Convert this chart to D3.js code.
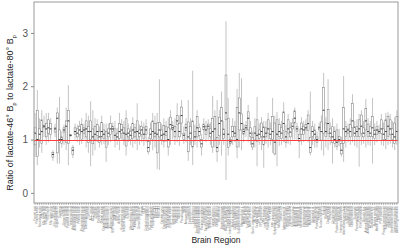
<!DOCTYPE html>
<html>
<head>
<meta charset="utf-8">
<script src="https://cdn.jsdelivr.net/npm/d3@7"></script>
<style>
  body { margin: 0; background: #fff; }
  text { font-family: "Liberation Sans", Arial, sans-serif; }
</style>
</head>
<body>
<svg id="chart"></svg>
<script>
const regions = [
  "Frontal pole","Primary motor","Secondary motor","SSp nose","SSp barrel field","SSp lower limb","SSp mouth","SSp upper limb","SSp trunk","SSp unassigned",
  "Supplemental SS","Gustatory","Visceral","Dorsal auditory","Primary auditory","Posterior auditory","Ventral auditory","Anterolateral visual","Anteromedial visual","Lateral visual",
  "Primary visual","Posterolateral visual","Posteromedial visual","Laterointermediate","Postrhinal","ACC dorsal","ACC ventral","Prelimbic","Infralimbic","Orbital lateral",
  "Orbital medial","Orbital ventrolateral","Agranular insula d","Agranular insula p","Agranular insula v","RSP lateral agranular","RSP dorsal","RSP ventral","Anterior visual","Rostrolateral visual",
  "Temporal association","Perirhinal","Ectorhinal","Main olfactory bulb","Accessory olfactory","Anterior olfactory","Taenia tecta","Dorsal peduncular","Piriform","NLOT",
  "Cortical amygdala a","Cortical amygdala p","Piriform-amygdalar","Postpiriform trans","Field CA1","Field CA2","Field CA3","Dentate gyrus","Fasciola cinereum","Induseum griseum",
  "Entorhinal lateral","Entorhinal medial","Parasubiculum","Postsubiculum","Presubiculum","Subiculum","Prosubiculum","HATA","Area prostriata","Claustrum",
  "Endopiriform d","Endopiriform v","Lateral amygdala","Basolateral amygdala","Basomedial amygdala","Posterior amygdala","Caudoputamen","Nucleus accumbens","Fundus of striatum","Olfactory tubercle",
  "Lateral septum c","Lateral septum r","Lateral septum v","Septofimbrial","Septohippocampal","Anterior amygdalar","Bed n. accessory olf","Central amygdala","Intercalated amygdala","Medial amygdala",
  "Globus pallidus ext","Globus pallidus int","Substantia innominata","Magnocellular n.","Medial septum","Diagonal band","Triangular septum","Bed n. stria term.","Bed n. anterior comm.","VAL thalamus",
  "Ventral medial th.","VPL thalamus","VPL parvicellular","VPM thalamus","VPM parvicellular","Posterior triangular","SPF medial","SPF parvicellular","Subparafascicular area","Peripeduncular",
  "Medial geniculate","Dorsal LGN","Lateral posterior th.","Posterior complex","Posterior limiting","Suprageniculate","Ethmoid nucleus","Anteroventral th.","Anteromedial th.","Anterodorsal th.",
  "Interanteromedial","Interanterodorsal","Lateral dorsal th.","Intermediodorsal","Mediodorsal th.","Submedial th.","Perireunensis","Paraventricular th.","Parataenial","Nucleus reuniens",
  "Xiphoid","Rhomboid","Central medial","Paracentral","Central lateral","Parafascicular","Posterior intralaminar","Reticular th.","Intergeniculate leaflet","Intermediate geniculate",
  "Ventral LGN","Subgeniculate","Medial habenula","Lateral habenula","Supraoptic","Paraventricular hyp.","PVH anterior","PVH intermediate","Arcuate hyp.","Anterodorsal preoptic",
  "Anteroventral preoptic","AV periventricular","Dorsomedial hyp.","Median preoptic","Medial preoptic area","Parastrellar","PVH posterior","Preoptic periventricular","Subparaventricular","Suprachiasmatic",
  "Subfornical organ","Ventromedial preoptic","Ventrolateral preoptic","Anterior hypothalamic"
];

const whiskerLow = [
  .67,.52,.85,.75,1.05,.90,.95,1.00,.60,1.05, .55,.55,.85,.90,.80,.52,1.05,.65,1.00,.95,
  .90,.92,1.00,.85,.75,.50,.70,.80,.95,.85, .90,.92,.58,.90,.95,1.00,.85,.90,.80,1.00,
  .90,.70,.95,.90,.85,.92,.80,.90,.95,.88, .95,.72,.90,.80,.85,.45,.43,.90,.85,.95,
  .70,.90,1.00,.90,.95,.88,1.10,.92,.95,.60, .90,.52,.90,.85,.95,.70,1.00,.95,1.00,.90,
  .75,.85,.58,.90,.70,.90,.24,.70,.88,.90, .95,.65,.85,.80,.95,1.05,.95,.90,.80,.85,
  .50,.90,.80,.47,.92,.85,.90,.75,.70,.50, .88,.90,.95,.85,.92,.90,1.00,1.00,1.00,.65,
  .90,.95,.98,.95,.70,.90,.85,.85,1.00,.80, .70,.85,.80,.90,.55,.85,.80,.88,.68,.58,
  .85,.95,.90,.95,.88,.85,.49,.90,.92,.85, .90,.88,.55,.90,.95,1.00,.90,.88,.82,.90,
  .92,.85,.80,.90
];
const q1 = [
  .90,.68,1.00,.93,1.22,1.05,1.12,1.10,.67,1.14, .75,.95,.93,1.14,.95,.93,1.07,.72,1.10,1.05,
  1.10,1.00,1.12,1.05,.95,1.00,.92,1.00,1.08,.95, 1.05,1.02,.85,1.05,1.10,1.15,1.00,.98,1.02,1.12,
  1.00,.88,1.05,1.00,1.02,1.05,1.00,1.06,1.10,1.02, 1.10,.77,1.02,1.00,1.05,.75,1.05,1.00,.97,1.08,
  .86,1.20,1.18,1.05,1.28,1.05,1.31,1.00,1.17,.77, 1.02,.86,.98,1.05,1.08,.86,1.18,1.10,1.20,1.05,
  .86,.99,.77,1.07,.98,1.02,1.37,.85,.93,1.05, 1.06,.86,1.18,1.18,1.10,1.18,1.18,1.06,.86,.99,
  .96,1.02,1.06,.90,1.05,1.12,1.02,1.00,.73,.99, 1.06,1.02,1.17,.95,1.12,1.05,1.20,1.31,1.15,.96,
  1.10,1.10,1.18,1.17,.76,1.06,1.00,.95,1.18,.99, 1.12,1.06,1.12,1.05,.95,.93,.87,.96,.73,.93,
  1.06,1.12,1.05,1.22,1.06,1.06,1.06,1.12,1.05,1.18, 1.06,1.06,1.06,1.02,1.10,1.12,1.12,1.00,.99,1.06,
  1.09,1.00,.93,.99
];
const median = [
  1.12,1.00,1.10,1.15,1.25,1.20,1.22,1.20,.72,1.20, 1.40,1.00,1.00,1.18,1.25,1.35,1.08,.80,1.15,1.12,
  1.18,1.15,1.18,1.20,1.15,1.15,1.05,1.10,1.15,1.05, 1.15,1.10,.98,1.12,1.20,1.20,1.08,1.05,1.15,1.18,
  1.12,1.10,1.12,1.08,1.18,1.14,1.15,1.12,1.18,1.10, 1.18,.85,1.10,1.15,1.12,1.10,1.18,1.08,1.10,1.15,
  1.00,1.28,1.22,1.15,1.35,1.15,1.45,1.08,1.22,1.05, 1.12,.98,1.05,1.22,1.15,.92,1.24,1.18,1.25,1.12,
  1.15,1.20,.85,1.30,1.35,1.10,1.50,1.10,.96,1.15, 1.12,1.00,1.50,1.30,1.15,1.22,1.40,1.12,.92,1.12,
  1.08,1.10,1.15,1.05,1.12,1.20,1.10,1.15,.95,1.10, 1.15,1.12,1.30,1.05,1.20,1.14,1.25,1.40,1.20,1.02,
  1.20,1.18,1.22,1.30,.85,1.15,1.10,1.00,1.22,1.15, 1.55,1.15,1.30,1.12,1.05,1.00,.95,1.00,.80,1.20,
  1.15,1.18,1.15,1.35,1.12,1.15,1.20,1.25,1.12,1.35, 1.15,1.12,1.22,1.10,1.18,1.15,1.20,1.10,1.15,1.25,
  1.20,1.10,1.05,1.15
];
const q3 = [
  1.22,1.55,1.20,1.37,1.27,1.30,1.37,1.30,.76,1.22, 1.50,1.18,1.05,1.22,1.35,1.55,1.09,.85,1.22,1.20,
  1.25,1.28,1.22,1.35,1.25,1.35,1.20,1.25,1.28,1.15, 1.32,1.18,1.15,1.20,1.30,1.25,1.20,1.12,1.30,1.28,
  1.22,1.39,1.20,1.15,1.30,1.22,1.35,1.18,1.25,1.22, 1.25,.96,1.20,1.35,1.30,1.31,1.32,1.18,1.26,1.24,
  1.22,1.42,1.26,1.25,1.45,1.30,1.61,1.12,1.29,1.33, 1.25,1.35,1.15,1.43,1.22,1.00,1.29,1.25,1.29,1.20,
  1.40,1.43,1.04,1.42,1.60,1.20,2.21,1.40,1.00,1.25, 1.24,1.60,1.78,1.48,1.20,1.26,1.52,1.22,1.04,1.24,
  1.37,1.18,1.31,1.24,1.22,1.37,1.20,1.43,1.31,1.37, 1.28,1.22,1.52,1.15,1.37,1.22,1.31,1.54,1.24,1.10,
  1.31,1.25,1.28,1.46,1.04,1.24,1.18,1.05,1.24,1.33, 1.98,1.31,1.56,1.20,1.24,1.15,1.18,1.06,.93,1.60,
  1.24,1.20,1.28,1.68,1.24,1.24,1.37,1.46,1.22,1.58, 1.29,1.24,1.43,1.18,1.24,1.18,1.37,1.20,1.37,1.43,
  1.37,1.20,1.31,1.43
];
const whiskerHigh = [
  1.50,1.93,1.40,1.55,1.45,1.50,1.50,1.40,.80,1.30, 1.60,1.80,1.15,1.28,1.60,2.02,1.10,.90,1.30,1.28,
  1.35,1.40,1.30,1.50,1.45,1.72,1.55,1.40,1.38,1.25, 1.45,1.30,1.30,1.30,1.45,1.32,1.35,1.22,1.50,1.38,
  1.35,1.55,1.30,1.25,1.42,1.30,1.68,1.28,1.35,1.32, 1.38,1.05,1.32,1.50,1.45,1.50,2.13,1.30,1.40,1.35,
  1.40,1.55,1.35,1.40,1.68,1.45,1.74,1.25,1.40,1.74, 1.40,2.29,1.28,1.55,1.30,1.10,1.40,1.35,1.38,1.32,
  1.82,1.55,1.74,1.55,1.90,1.35,3.22,1.78,1.05,1.40, 1.35,1.95,2.25,2.15,1.30,1.35,1.65,1.35,1.15,1.40,
  1.80,1.30,1.42,1.35,1.35,1.50,1.32,1.78,1.45,1.52, 1.40,1.35,1.70,1.28,1.48,1.32,1.40,1.60,1.32,1.20,
  1.42,1.35,1.38,1.55,1.90,1.35,1.30,1.15,1.32,1.45, 2.25,1.42,2.13,1.32,1.40,1.25,1.30,1.20,1.05,2.19,
  1.35,1.30,1.40,1.85,1.35,1.38,1.48,1.55,1.35,1.76, 1.40,1.35,1.78,1.30,1.35,1.28,1.48,1.32,1.50,1.52,
  1.48,1.35,1.42,1.55
];
const yTicks = [0, 1, 2, 3];
const refValue = 1;

const W = 400, H = 248;
const margin = {top: 2, right: 2, bottom: 45, left: 34};
const innerW = W - margin.left - margin.right;
const innerH = H - margin.top - margin.bottom;

const svg = d3.select('#chart').attr('width', W).attr('height', H);
const g = svg.append('g').attr('transform', `translate(${margin.left},${margin.top})`);

const N = median.length;
const idx = d3.range(N);

const x = d3.scaleBand().domain(idx).range([0, innerW]).padding(0);
const y = d3.scaleLinear().domain([-0.19, 3.58]).range([innerH, 0]);

const boxW = x.bandwidth() * 0.85;
const cx = i => x(i) + x.bandwidth() / 2;

// whiskers
g.append('g').selectAll('line').data(idx).join('line')
  .attr('x1', cx).attr('x2', cx)
  .attr('y1', i => y(whiskerLow[i])).attr('y2', i => y(whiskerHigh[i]))
  .attr('stroke', '#888').attr('stroke-width', 0.5);

// boxes
g.append('g').selectAll('rect').data(idx).join('rect')
  .attr('x', i => cx(i) - boxW / 2)
  .attr('width', boxW)
  .attr('y', i => y(q3[i]))
  .attr('height', i => y(q1[i]) - y(q3[i]))
  .attr('fill', '#fff')
  .attr('stroke', '#777').attr('stroke-width', 0.5);

// medians
g.append('g').selectAll('line').data(idx).join('line')
  .attr('x1', i => cx(i) - boxW / 2).attr('x2', i => cx(i) + boxW / 2)
  .attr('y1', i => y(median[i])).attr('y2', i => y(median[i]))
  .attr('stroke', '#222').attr('stroke-width', 0.9);

// reference line at ratio 1
const yRef = Math.round(y(refValue)) + 0.5;
g.append('line')
  .attr('x1', 0).attr('x2', innerW)
  .attr('y1', yRef).attr('y2', yRef)
  .attr('stroke', '#ff3b3b').attr('stroke-width', 1)
  .attr('shape-rendering', 'crispEdges');

// panel border
g.append('rect')
  .attr('width', innerW).attr('height', innerH)
  .attr('fill', 'none').attr('stroke', '#999').attr('stroke-width', 1);

// axes
const yAxis = g.append('g')
  .call(d3.axisLeft(y).tickValues(yTicks).tickFormat(d3.format('d'))
    .tickSize(3).tickSizeOuter(0).tickPadding(3));
yAxis.select('.domain').remove();
yAxis.selectAll('line').attr('stroke', '#888');
yAxis.selectAll('text').attr('fill', '#555').style('font-size', '10px');

const xAxis = g.append('g')
  .attr('transform', `translate(0,${innerH})`)
  .call(d3.axisBottom(x).tickSize(2).tickSizeOuter(0).tickFormat(i => regions[i]));
xAxis.select('.domain').remove();
xAxis.selectAll('line').attr('stroke', '#888').attr('stroke-width', 0.6);
xAxis.selectAll('text')
  .attr('transform', 'rotate(-90)')
  .attr('x', -3).attr('y', 0).attr('dy', '0.35em')
  .style('text-anchor', 'end')
  .style('font-size', '2.8px')
  .attr('fill', '#777');

// titles
svg.append('text')
  .attr('x', margin.left + innerW / 2).attr('y', 243)
  .attr('text-anchor', 'middle')
  .style('font-size', '8.5px').attr('fill', '#222')
  .text('Brain Region');

const yt = svg.append('text')
  .attr('transform', 'translate(13,113) rotate(-90)')
  .attr('text-anchor', 'middle')
  .style('font-size', '9px').attr('fill', '#222');
yt.append('tspan').text('Ratio of lactate-46° B');
yt.append('tspan').attr('baseline-shift', 'sub').style('font-size', '5.5px').text('p');
yt.append('tspan').text(' to lactate-80° B');
yt.append('tspan').attr('baseline-shift', 'sub').style('font-size', '5.5px').text('p');
</script>
</body>
</html>
